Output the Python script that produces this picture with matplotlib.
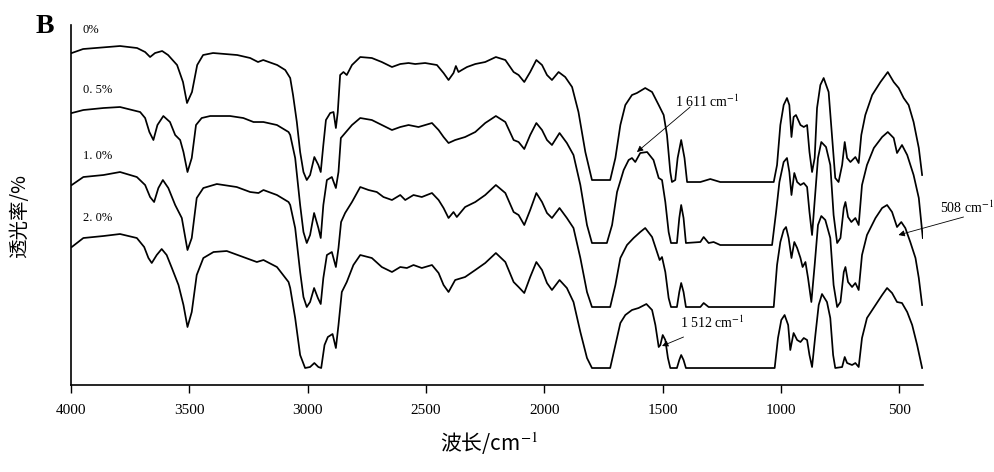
import matplotlib
matplotlib.use("Agg")
import matplotlib.pyplot as plt

plt.rcParams["mathtext.fontset"] = "stix"

# FTIR spectra (wavenumber cm-1, stacked transmittance a.u.)
wn_0 = [3997, 3949, 3793, 3721, 3687, 3666, 3645, 3615, 3590, 3552, 3527, 3510, 3489, 3467, 3442, 3400,
        3298, 3243, 3210, 3188, 3129, 3095, 3074, 3062, 3046, 3032, 3018, 3004, 2990, 2972, 2955, 2945,
        2934, 2923, 2905, 2891, 2881, 2873, 2863, 2849, 2835, 2813, 2778, 2729, 2687, 2644, 2609, 2574,
        2546, 2504, 2454, 2426, 2405, 2384, 2374, 2363, 2349, 2327, 2292, 2250, 2205, 2165, 2130, 2109,
        2085, 2060, 2034, 2010, 1989, 1968, 1940, 1912, 1883, 1856, 1827, 1799, 1722, 1700, 1679, 1658,
        1630, 1609, 1574, 1545, 1517, 1496, 1482, 1468, 1461, 1447, 1437, 1422, 1408, 1397, 1341, 1299,
        1257, 1031, 1017, 1003, 989, 975, 965, 956, 947, 937, 918, 904, 890, 880, 869, 858, 848, 834, 820,
        799, 785, 771, 757, 742, 731, 721, 707, 686, 672, 661, 644, 615, 580, 549, 524, 503, 482, 461,
        440, 418, 404]
t_0 = [332, 336, 339, 337, 333, 328, 332, 334, 330, 320, 303, 282, 293, 320, 330, 332,
       330, 327, 323, 325, 320, 315, 307, 290, 263, 233, 213, 205, 210, 228, 220, 213,
       240, 265, 272, 273, 257, 273, 310, 313, 310, 320, 328, 327, 323, 318, 321, 322,
       321, 322, 320, 312, 305, 312, 319, 313, 315, 318, 321, 323, 328, 325, 313, 310,
       303, 313, 325, 320, 310, 305, 313, 308, 298, 273, 233, 205, 205, 227, 260, 280,
       290, 292, 297, 293, 280, 270, 250, 213, 203, 205, 227, 245, 227, 203, 203, 206,
       203, 203, 220, 260, 280, 287, 280, 248, 268, 270, 260, 258, 260, 233, 213, 227, 277, 300, 307,
       293, 250, 207, 203, 220, 243, 227, 223, 228, 222, 250, 270, 290, 303, 313, 303, 297, 287, 280,
       263, 237, 210]

wn_05 = [3997, 3948, 3863, 3793, 3708, 3687, 3669, 3652, 3635, 3610, 3582, 3560, 3539, 3525, 3508, 3490,
         3472, 3448, 3412, 3328, 3272, 3229, 3187, 3130, 3081, 3074, 3053, 3032, 3018, 3004, 2990, 2973,
         2955, 2945, 2934, 2919, 2898, 2881, 2870, 2860, 2842, 2813, 2778, 2729, 2687, 2644, 2609, 2574,
         2532, 2475, 2447, 2426, 2405, 2377, 2335, 2292, 2250, 2205, 2165, 2130, 2109, 2085, 2060, 2034,
         2010, 1989, 1968, 1936, 1905, 1877, 1848, 1820, 1799, 1736, 1714, 1693, 1665, 1644, 1630, 1616,
         1595, 1566, 1539, 1517, 1503, 1489, 1475, 1465, 1440, 1430, 1422, 1412, 1402, 1341, 1327, 1306,
         1285, 1257, 1038, 1021, 1007, 989, 975, 965, 956, 944, 932, 918, 904, 890, 880, 869, 855, 844,
         830, 810, 792, 778, 763, 749, 735, 728, 717, 703, 686, 672, 658, 637, 608, 573, 549, 524, 510,
         489, 467, 440, 418, 401]
t_05 = [272, 275, 277, 278, 273, 267, 253, 245, 260, 269, 263, 250, 245, 233, 213, 227,
        260, 267, 269, 269, 267, 263, 263, 260, 253, 250, 227, 180, 153, 142, 150, 172,
        157, 147, 180, 205, 208, 197, 213, 247, 252, 260, 267, 265, 260, 255, 258, 260,
        258, 262, 255, 248, 242, 245, 248, 253, 262, 269, 263, 245, 243, 236, 250, 262,
        255, 245, 240, 252, 242, 230, 200, 160, 142, 142, 160, 193, 215, 225, 227, 223,
        232, 233, 225, 207, 205, 183, 153, 142, 142, 167, 180, 167, 142, 143, 148, 142,
        143, 140, 140, 173, 203, 223, 227, 213, 190, 212, 203, 200, 202, 198, 173, 150, 193, 227,
        243, 238, 220, 170, 142, 147, 177, 183, 168, 163, 167, 160, 200, 220, 237, 248, 253, 247, 232,
        240, 230, 210, 187, 147]

wn_10 = [3997, 3948, 3863, 3793, 3722, 3687, 3666, 3649, 3631, 3612, 3589, 3560, 3532, 3508, 3490, 3469,
         3441, 3384, 3300, 3243, 3208, 3187, 3130, 3081, 3074, 3053, 3032, 3018, 3004, 2990, 2973, 2957,
         2945, 2934, 2919, 2898, 2881, 2870, 2859, 2842, 2813, 2778, 2743, 2708, 2680, 2644, 2609, 2588,
         2553, 2518, 2475, 2447, 2426, 2405, 2384, 2370, 2335, 2292, 2250, 2205, 2165, 2130, 2109, 2085,
         2060, 2034, 2010, 1989, 1968, 1936, 1905, 1877, 1848, 1820, 1799, 1722, 1700, 1679, 1651, 1623,
         1595, 1574, 1545, 1524, 1513, 1503, 1489, 1475, 1465, 1440, 1430, 1422, 1412, 1402, 1341, 1327,
         1306, 1257, 1031, 1017, 1003, 989, 979, 968, 956, 944, 932, 918, 909, 897, 886, 872, 858, 844,
         830, 813, 792, 778, 763, 749, 735, 728, 717, 700, 686, 672, 658, 637, 601, 573, 552, 531, 510,
         492, 475, 454, 432, 418, 404]
t_10 = [200, 208, 210, 213, 208, 200, 188, 183, 197, 205, 197, 180, 167, 135, 147, 187,
        197, 201, 198, 193, 192, 195, 190, 183, 180, 157, 113, 88, 78, 83, 97, 87,
        81, 107, 130, 133, 118, 137, 163, 172, 183, 198, 195, 193, 188, 185, 190, 185,
        190, 188, 192, 185, 177, 167, 173, 168, 178, 183, 190, 200, 192, 173, 170, 160,
        175, 192, 183, 172, 167, 177, 167, 157, 127, 93, 78, 78, 100, 127, 140, 147,
        153, 157, 148, 133, 125, 128, 113, 87, 78, 78, 93, 102, 93, 78, 78, 82,
        78, 78, 78, 120, 143, 155, 158, 147, 127, 143, 137, 127, 118, 123, 107, 83, 120, 160,
        169, 165, 147, 100, 78, 83, 113, 118, 103, 98, 102, 95, 130, 150, 167, 177, 180, 173, 158,
        163, 157, 143, 127, 107, 80]

wn_20 = [3997, 3948, 3863, 3793, 3722, 3691, 3673, 3659, 3638, 3617, 3596, 3574, 3546, 3525, 3508, 3490,
         3469, 3441, 3398, 3342, 3272, 3215, 3187, 3130, 3081, 3074, 3053, 3032, 3011, 2990, 2972, 2955,
         2943, 2929, 2915, 2895, 2881, 2870, 2856, 2835, 2807, 2778, 2729, 2687, 2644, 2609, 2581, 2553,
         2518, 2475, 2447, 2426, 2405, 2377, 2335, 2292, 2250, 2205, 2165, 2130, 2109, 2085, 2060, 2034,
         2010, 1989, 1968, 1936, 1905, 1877, 1848, 1820, 1799, 1722, 1700, 1679, 1658, 1630, 1602, 1569,
         1545, 1531, 1517, 1510, 1500, 1489, 1478, 1468, 1440, 1430, 1422, 1412, 1402, 1257, 1027, 1013,
         999, 985, 970, 961, 947, 932, 918, 904, 890, 880, 869, 855, 841, 827, 806, 792, 780, 771, 742,
         731, 721, 700, 686, 672, 658, 637, 601, 573, 552, 531, 510, 489, 467, 446, 425, 404]
t_20 = [138, 147, 149, 151, 147, 138, 127, 122, 130, 136, 130, 117, 100, 80, 58, 73,
        110, 127, 133, 134, 128, 123, 125, 118, 103, 97, 67, 30, 17, 18, 22, 18,
        17, 40, 48, 51, 37, 60, 93, 103, 120, 130, 127, 118, 113, 118, 117, 120,
        117, 120, 112, 100, 93, 105, 108, 115, 122, 132, 123, 103, 98, 92, 108, 123,
        115, 102, 95, 105, 97, 83, 53, 27, 17, 17, 40, 62, 70, 75, 77, 81,
        75, 60, 38, 40, 50, 45, 27, 17, 17, 25, 30, 25, 17, 17, 17, 47,
        65, 70, 60, 35, 52, 45, 43, 47, 45, 30, 18, 50, 80, 91, 83, 67, 30, 17, 18,
        28, 22, 20, 22, 18, 47, 67, 80, 90, 97, 92, 83, 82, 73, 60, 40, 17]

series = [(wn_0, t_0), (wn_05, t_05), (wn_10, t_10), (wn_20, t_20)]
labels = ["0%", "0. 5%", "1. 0%", "2. 0%"]
label_y = [355, 295, 229, 167]
x_ticks = [4000, 3500, 3000, 2500, 2000, 1500, 1000, 500]

serif = "Liberation Serif"
cjk = "Noto Sans CJK SC"

fig = plt.figure(figsize=(9.95, 4.72), dpi=100)
ax = fig.add_axes([0.0714, 0.1843, 0.8563, 0.7627])

for wn, t in series:
    ax.plot(wn, t, color="black", lw=1.25)

for lab, y in zip(labels, label_y):
    ax.text(3950, y, lab, fontsize=9, family=serif, va="center", ha="left")

# peak annotations
arrow = dict(arrowstyle="-|>", lw=0.6, color="black", mutation_scale=9, shrinkA=0, shrinkB=0)
ax.annotate("", xy=(1609, 233), xytext=(1384, 278), arrowprops=arrow)
ax.text(1447, 283, "1 611 cm$^{-1}$", fontsize=10, family=serif, va="center")
ax.annotate("", xy=(1503, 39), xytext=(1412, 48), arrowprops=arrow)
ax.text(1426, 62, "1 512 cm$^{-1}$", fontsize=10, family=serif, va="center")
ax.annotate("", xy=(504, 150), xytext=(229, 168), arrowprops=arrow, annotation_clip=False)
ax.text(327, 177, "508 cm$^{-1}$", fontsize=10, family=serif, va="center", clip_on=False)

ax.set_xlim(4000, 400)
ax.set_ylim(0, 360)
ax.set_xticks(x_ticks)
ax.set_xticklabels([str(v) for v in x_ticks], family=serif, fontsize=11)
ax.set_yticks([])
ax.tick_params(axis="x", direction="out", length=6, width=1, pad=8)
for s in ["top", "right"]:
    ax.spines[s].set_visible(False)
for s in ["left", "bottom"]:
    ax.spines[s].set_linewidth(1.2)

ax.set_xlabel("波长/cm$^{-1}$", fontsize=15, family=cjk)
ax.xaxis.set_label_coords(0.49, -0.125)
ax.set_ylabel("透光率/%", fontsize=14, family=cjk)
ax.yaxis.set_label_coords(-0.048, 0.47)

fig.text(36 / 995, 1 - 33 / 472, "B", fontsize=20, weight="bold", family=serif)

fig.savefig("out.png", dpi=100)
